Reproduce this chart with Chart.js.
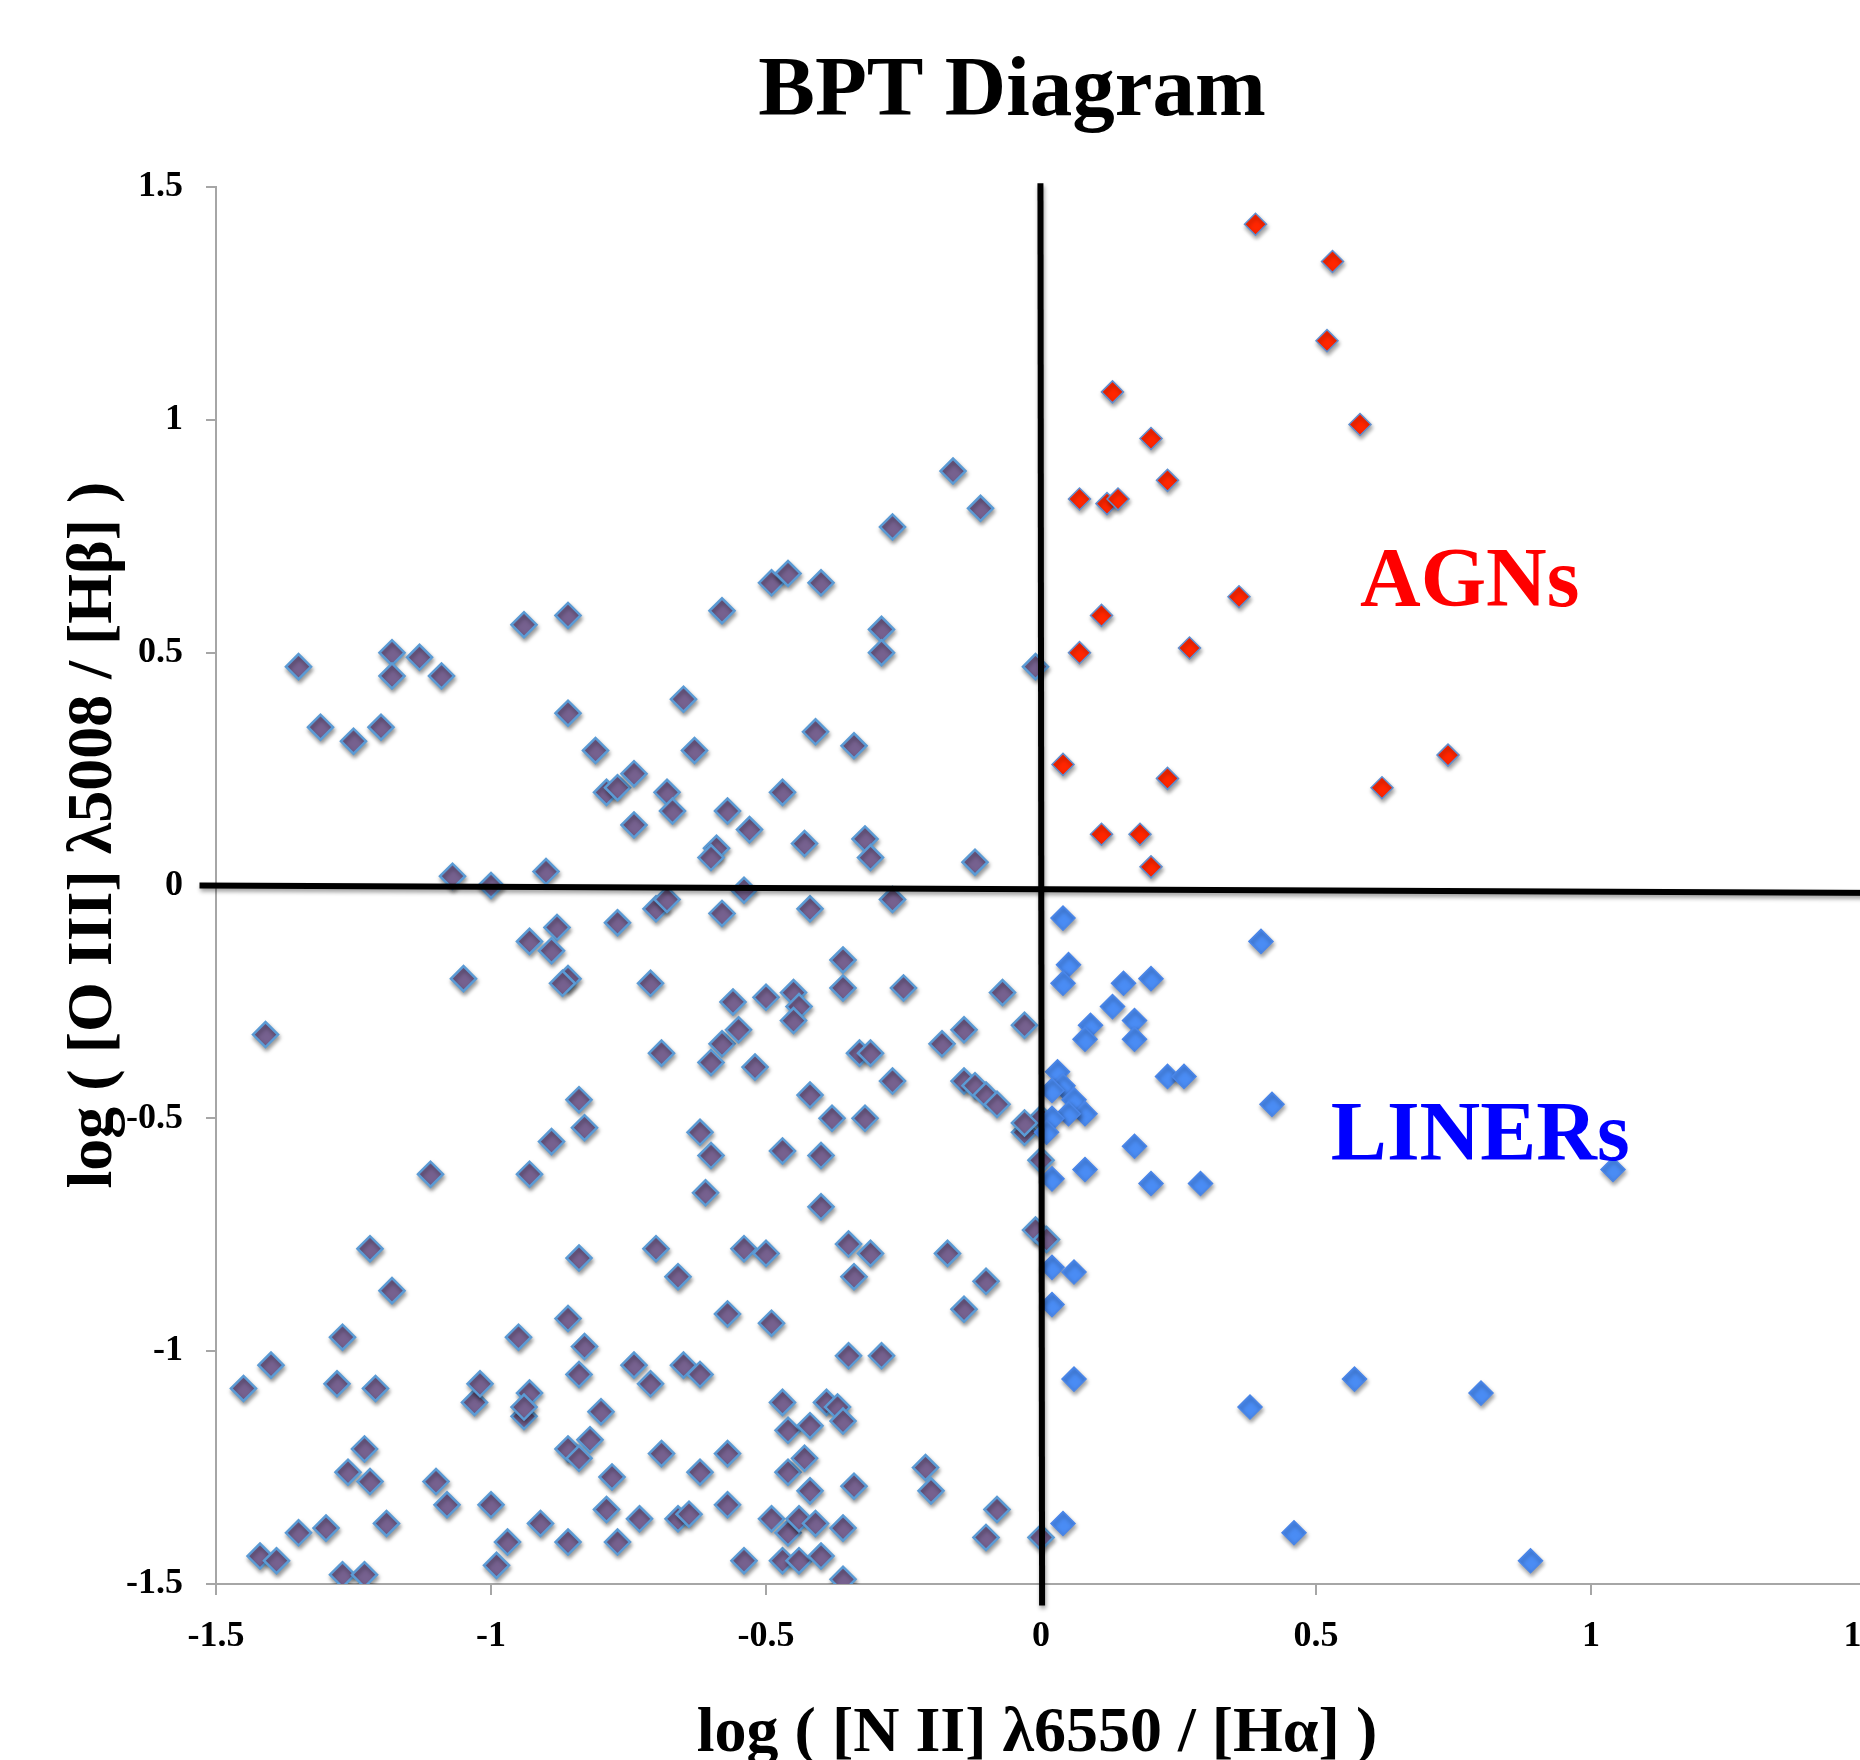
<!DOCTYPE html>
<html lang="en">
<head>
  <meta charset="UTF-8" />
  <title>BPT Diagram</title>
  <script src="https://cdn.jsdelivr.net/npm/chart.js"></script>
  <style>
    html, body { margin: 0; padding: 0; background: #fff; overflow: hidden; }
    #wrap { position: absolute; left: 0; top: 0; width: 1900px; height: 1760px; }
  </style>
</head>
<body>
  <div id="wrap"><canvas id="bpt"></canvas></div>

  <script>
    // axis ticks
    const xTicks = [-1.5, -1, -0.5, 0, 0.5, 1, 1.5];
    const xTickLabels = ['-1.5', '-1', '-0.5', '0', '0.5', '1', '1.5'];
    const yTicks = [-1.5, -1, -0.5, 0, 0.5, 1, 1.5];
    const yTickLabels = ['-1.5', '-1', '-0.5', '0', '0.5', '1', '1.5'];

    // star-forming / composite galaxies (purple)
    const sfX = [
      -1.35, -1.31, -1.25, -1.41, -1.27, -1.28, -1.40, -1.45, -1.23, -1.26, -1.22, -1.30, -1.35, -1.42, -1.39, -1.27, -1.23,
      -1.20, -1.18, -1.18, -1.13, -1.09, -1.07, -1.05, -1.11, -1.22, -1.18, -1.21, -1.19, -1.10, -1.08, -1.03, -1.02,
      -1.00, -0.94, -0.86, -0.90, -0.93, -0.88, -0.89, -0.86, -0.87, -0.86, -0.84, -0.83, -0.89, -0.93, -0.84,
      -0.95, -0.93, -0.94, -0.94, -0.86, -0.83, -0.84, -1.00, -0.97, -0.99, -0.91, -0.86, -0.86, -0.82, -0.84,
      -0.81, -0.79, -0.77, -0.74, -0.74, -0.77, -0.70, -0.68, -0.71, -0.69, -0.65, -0.63, -0.68, -0.67, -0.62, -0.60, -0.61,
      -0.80, -0.78, -0.79, -0.77, -0.73, -0.74, -0.71, -0.70, -0.66, -0.69, -0.66, -0.64, -0.65, -0.62, -0.62,
      -0.58, -0.49, -0.46, -0.40, -0.57, -0.53, -0.47, -0.41, -0.59, -0.60, -0.43, -0.58, -0.54, -0.42,
      -0.56, -0.50, -0.45, -0.44, -0.45, -0.58, -0.60, -0.55, -0.52, -0.42, -0.47,
      -0.57, -0.57, -0.57, -0.54, -0.54, -0.50, -0.49, -0.49, -0.47, -0.46, -0.47, -0.46, -0.46,
      -0.44, -0.44, -0.43, -0.42, -0.42, -0.41, -0.40, -0.39, -0.40, -0.40,
      -0.34, -0.29, -0.29, -0.27, -0.32, -0.31, -0.27, -0.36, -0.36, -0.33, -0.31, -0.27, -0.25, -0.38, -0.32,
      -0.37, -0.36, -0.36, -0.36, -0.35, -0.29, -0.35, -0.31, -0.34, -0.34, -0.21, -0.20, -0.18,
      -0.16, -0.11, -0.12, -0.01, -0.14, -0.07, -0.03, -0.14, -0.12, -0.10, -0.08, -0.03, 0.00, -0.03, 0.00,
      -0.17, -0.14, -0.10, -0.08, -0.10, -0.01, 0.01, 0.00
    ];
    const sfY = [
      0.47, 0.34, 0.31, -0.32, -0.97, -1.07, -1.03, -1.08, -1.21, -1.26, -1.28, -1.38, -1.39, -1.44, -1.45, -1.48, -1.48,
      0.34, 0.50, 0.45, 0.49, 0.45, 0.02, -0.20, -0.62, -0.78, -0.87, -1.08, -1.37, -1.28, -1.33, -1.11, -1.07,
      0.00, 0.56, 0.58, 0.03, -0.12, -0.09, -0.14, -0.20, -0.21, 0.37, -0.46, -0.52, -0.55, -0.62, -0.80,
      -0.97, -1.09, -1.14, -1.12, -0.93, -0.99, -1.05, -1.33, -1.41, -1.46, -1.37, -1.41, -1.21, -1.19, -1.23,
      0.29, 0.20, 0.21, 0.24, 0.13, -0.08, -0.05, -0.03, -0.21, -0.36, 0.40, 0.29, 0.20, 0.16, -0.53, -0.58, -0.66,
      -1.13, -1.27, -1.34, -1.41, -1.36, -1.03, -1.07, -0.78, -0.84, -1.22, -1.36, -1.35, -1.03, -1.05, -1.26,
      0.59, 0.65, 0.67, 0.65, 0.16, 0.12, 0.20, 0.33, 0.08, 0.06, 0.09, -0.06, -0.01, -0.05,
      -0.25, -0.24, -0.23, -0.26, -0.29, -0.34, -0.38, -0.31, -0.39, -0.45, -0.57,
      -0.92, -1.22, -1.33, -1.45, -0.78, -0.79, -0.94, -1.36, -1.45, -1.39, -1.11, -1.17, -1.26,
      -1.36, -1.45, -1.23, -1.16, -1.30, -1.37, -1.44, -1.11, -0.58, -0.69,
      0.30, 0.55, 0.50, 0.77, 0.10, 0.06, -0.03, -0.16, -0.22, -0.36, -0.36, -0.42, -0.22, -0.50, -0.50,
      -1.12, -1.15, -1.38, -1.49, -1.01, -1.01, -0.77, -0.79, -0.84, -1.29, -1.25, -1.30, -0.34,
      0.89, 0.81, 0.05, 0.47, -0.31, -0.23, -0.30, -0.42, -0.43, -0.45, -0.47, -0.53, -0.50, -0.51, -0.59,
      -0.79, -0.91, -0.85, -1.34, -1.40, -0.74, -0.76, -1.40
    ];

    // AGNs (red)
    const agnX = [0.39, 0.53, 0.52, 0.58, 0.13, 0.20, 0.23, 0.07, 0.12, 0.14, 0.36, 0.11, 0.07, 0.27, 0.04, 0.23, 0.74, 0.62, 0.11, 0.18, 0.20];
    const agnY = [1.42, 1.34, 1.17, 0.99, 1.06, 0.96, 0.87, 0.83, 0.82, 0.83, 0.62, 0.58, 0.50, 0.51, 0.26, 0.23, 0.28, 0.21, 0.11, 0.11, 0.04];

    // LINERs (blue)
    const linerX = [0.04, 0.40, 0.05, 0.04, 0.15, 0.20, 0.13, 0.17, 0.09, 0.08, 0.17, 0.03, 0.04, 0.02, 0.06, 0.08, 0.05, 0.02, 0.01,
                    0.23, 0.26, 0.42, 0.17, 0.08, 0.20, 0.29, 0.02, 0.02, 0.06, 0.02, 0.06, 0.04, 0.38, 0.57, 0.80, 0.46, 0.89, 1.04];
    const linerY = [-0.07, -0.12, -0.17, -0.21, -0.21, -0.20, -0.26, -0.29, -0.30, -0.33, -0.33, -0.40, -0.43, -0.44, -0.46, -0.49, -0.49, -0.50, -0.53,
                    -0.41, -0.41, -0.47, -0.56, -0.61, -0.64, -0.64, -0.63, -0.82, -0.83, -0.90, -1.06, -1.37, -1.12, -1.06, -1.09, -1.39, -1.45, -0.61];

    // hand-drawn dividing lines (data units)
    const hLineX = [-1.53, 1.55];
    const hLineY = [0.0, -0.016];
    const vLineX = [-0.001, 0.002];
    const vLineY = [1.508, -1.546];

    const pts = (xs, ys) => xs.map((v, i) => ({ x: v, y: ys[i] }));
    const serif = '"Liberation Serif", "Times New Roman", serif';

    // drop shadow under markers and lines (Excel style)
    const shadow = {
      id: 'shadow',
      beforeDatasetsDraw(chart) {
        const ctx = chart.ctx;
        ctx.save();
        ctx.shadowColor = 'rgba(0,0,0,0.38)';
        ctx.shadowBlur = 4;
        ctx.shadowOffsetX = 1;
        ctx.shadowOffsetY = 3;
      },
      afterDatasetsDraw(chart) {
        chart.ctx.restore();
      }
    };

    // titles and region labels
    const texts = {
      id: 'texts',
      afterDraw(chart) {
        const { ctx, scales: { x, y } } = chart;
        ctx.save();
        ctx.fillStyle = '#000';
        ctx.textAlign = 'center';
        ctx.textBaseline = 'alphabetic';
        ctx.font = 'bold 85px ' + serif;
        ctx.fillText('BPT Diagram', 1012, 115);

        ctx.font = 'bold 64px ' + serif;
        ctx.fillText('log ( [N II] \u03bb6550 / [H\u03b1] )', 1037, 1751);

        ctx.save();
        ctx.translate(111, 835);
        ctx.rotate(-Math.PI / 2);
        ctx.fillText('log ( [O III] \u03bb5008 / [H\u03b2] )', 0, 0);
        ctx.restore();

        ctx.textAlign = 'left';
        ctx.font = 'bold 84px ' + serif;
        ctx.fillStyle = '#ff0000';
        ctx.fillText('AGNs', x.getPixelForValue(0.58), y.getPixelForValue(0.60));
        ctx.fillStyle = '#0000ff';
        ctx.fillText('LINERs', x.getPixelForValue(0.527), y.getPixelForValue(-0.589));
        ctx.restore();
      }
    };

    const tickFont = { family: serif, size: 36, weight: 'bold' };

    new Chart(document.getElementById('bpt'), {
      type: 'scatter',
      data: {
        datasets: [
          {
            label: 'horizontal divider',
            data: pts(hLineX, hLineY),
            showLine: true, borderColor: '#000', borderWidth: 6,
            pointRadius: 0, clip: false, order: 0
          },
          {
            label: 'vertical divider',
            data: pts(vLineX, vLineY),
            showLine: true, borderColor: '#000', borderWidth: 6,
            pointRadius: 0, clip: false, order: 0
          },
          {
            label: 'AGNs',
            data: pts(agnX, agnY),
            pointStyle: 'rectRot', pointRadius: 11,
            backgroundColor: '#ff2600', borderColor: '#5f8fd0', borderWidth: 1.5,
            order: 1
          },
          {
            label: 'LINERs',
            data: pts(linerX, linerY),
            pointStyle: 'rectRot', pointRadius: 12,
            backgroundColor: '#4a8cf4', borderColor: '#4a86e8', borderWidth: 1.5,
            order: 2
          },
          {
            label: 'Star-forming',
            data: pts(sfX, sfY),
            pointStyle: 'rectRot', pointRadius: 12.5,
            backgroundColor: '#76618f', borderColor: '#5b9bd5', borderWidth: 2.5,
            order: 3
          }
        ]
      },
      options: {
        responsive: true,
        maintainAspectRatio: false,
        animation: false,
        events: [],
        layout: { padding: { left: 0, right: 34, top: 187, bottom: 0 } },
        plugins: {
          legend: { display: false },
          title: { display: false },
          tooltip: { enabled: false }
        },
        scales: {
          x: {
            type: 'linear', min: -1.5, max: 1.5,
            afterBuildTicks: s => { s.ticks = xTicks.map(v => ({ value: v })); },
            ticks: {
              callback: (v, i) => xTickLabels[i],
              font: tickFont, color: '#000', padding: 20,
              maxRotation: 0, autoSkip: false
            },
            grid: { drawOnChartArea: false, drawTicks: true, tickLength: 11, color: '#a6a6a6', lineWidth: 2 },
            border: { color: '#a6a6a6', width: 2 },
            afterFit: s => { s.height = 176; s.paddingLeft = 0; s.paddingRight = 0; }
          },
          y: {
            type: 'linear', min: -1.5, max: 1.5,
            afterBuildTicks: s => { s.ticks = yTicks.map(v => ({ value: v })); },
            ticks: {
              callback: (v, i) => yTickLabels[i],
              font: tickFont, color: '#000', padding: 23, autoSkip: false
            },
            grid: { drawOnChartArea: false, drawTicks: true, tickLength: 10, color: '#a6a6a6', lineWidth: 2 },
            border: { color: '#a6a6a6', width: 2 },
            afterFit: s => { s.width = 216; s.paddingTop = 0; s.paddingBottom = 0; }
          }
        }
      },
      plugins: [shadow, texts]
    });
  </script>
</body>
</html>
